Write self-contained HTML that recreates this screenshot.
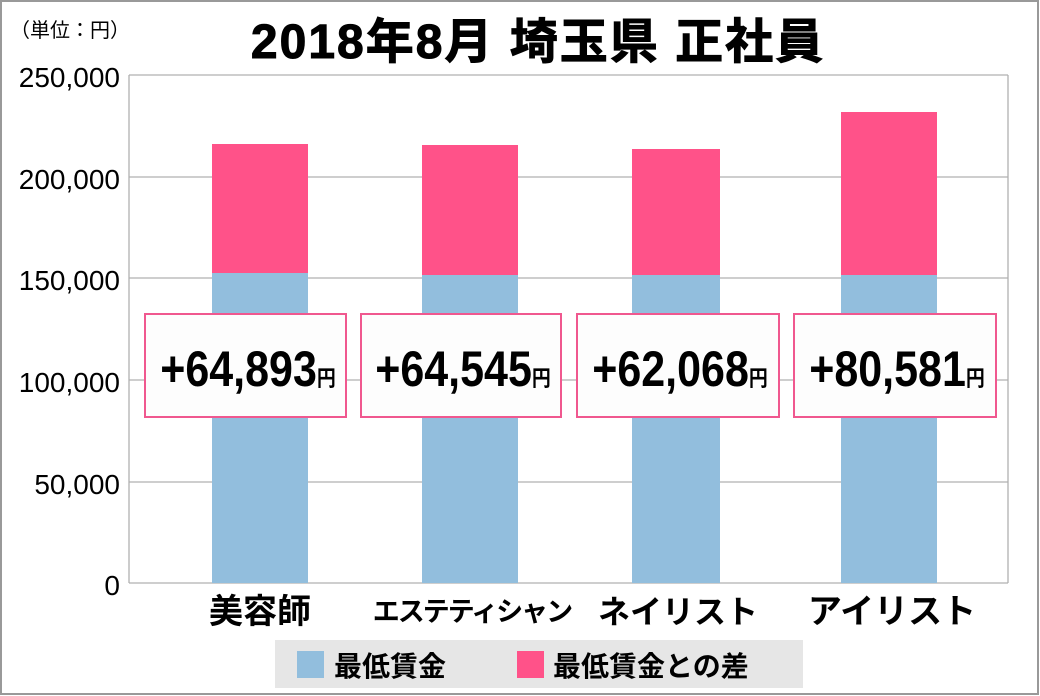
<!DOCTYPE html>
<html><head><meta charset="utf-8"><style>
html,body{margin:0;padding:0;background:#fff}
svg{display:block}
.t{font-family:"Liberation Sans","Noto Sans CJK JP",sans-serif}
</style></head><body>
<svg width="1040" height="696" viewBox="0 0 1040 696" xmlns="http://www.w3.org/2000/svg" class="t">
<rect x="1" y="1" width="1037" height="693" fill="#fff" stroke="#999" stroke-width="2"/>
<text x="10" y="37" font-size="20" fill="#000">（単位：円）</text>
<text x="538" y="58" font-size="48" font-weight="bold" text-anchor="middle" fill="#000" stroke="#000" stroke-width="1" letter-spacing="2">2018年8月 埼玉県 正社員</text>
<g stroke="#b0b0b0" stroke-width="1.3">
<line x1="129" y1="75" x2="1008" y2="75"/>
<line x1="129" y1="177" x2="1008" y2="177"/>
<line x1="129" y1="278" x2="1008" y2="278"/>
<line x1="129" y1="380" x2="1008" y2="380"/>
<line x1="129" y1="482" x2="1008" y2="482"/>
<line x1="129" y1="583" x2="1008" y2="583"/>
<line x1="129" y1="75" x2="129" y2="583"/>
<line x1="1008" y1="75" x2="1008" y2="583"/>
</g>
<g font-size="28" text-anchor="end" fill="#000">
<text x="120" y="87">250,000</text>
<text x="120" y="189">200,000</text>
<text x="120" y="290">150,000</text>
<text x="120" y="392">100,000</text>
<text x="120" y="494">50,000</text>
<text x="120" y="595">0</text>
</g>
<g fill="#92bedd">
<rect x="212" y="273" width="96" height="310"/>
<rect x="422" y="275" width="96" height="308"/>
<rect x="632" y="275" width="88" height="308"/>
<rect x="841" y="275" width="96" height="308"/>
</g>
<g fill="#ff5289">
<rect x="212" y="144" width="96" height="129"/>
<rect x="422" y="145" width="96" height="130"/>
<rect x="632" y="149" width="88" height="126"/>
<rect x="841" y="112" width="96" height="163"/>
</g>
<g fill="#fdfdfd" stroke="#f0588f" stroke-width="2">
<rect x="145" y="314" width="201" height="103"/>
<rect x="361" y="314" width="200" height="103"/>
<rect x="577" y="314" width="202" height="103"/>
<rect x="794" y="314" width="202" height="103"/>
</g>
<g font-weight="bold" fill="#000">
<text transform="translate(248,386) scale(0.86,1)" text-anchor="middle" font-size="50">+64,893<tspan font-size="22">円</tspan></text>
<text transform="translate(463,386) scale(0.86,1)" text-anchor="middle" font-size="50">+64,545<tspan font-size="22">円</tspan></text>
<text transform="translate(680,386) scale(0.86,1)" text-anchor="middle" font-size="50">+62,068<tspan font-size="22">円</tspan></text>
<text transform="translate(897,386) scale(0.86,1)" text-anchor="middle" font-size="50">+80,581<tspan font-size="22">円</tspan></text>
</g>
<g font-weight="bold" fill="#000" text-anchor="middle">
<text x="260" y="623" font-size="34">美容師</text>
<text x="472" y="621" font-size="27" letter-spacing="-2">エステティシャン</text>
<text x="678" y="623" font-size="32">ネイリスト</text>
<text x="892" y="623" font-size="34">アイリスト</text>
</g>
<rect x="275" y="640" width="528" height="48" fill="#e6e6e6"/>
<rect x="297" y="651" width="27" height="27" fill="#92bedd"/>
<text x="334" y="676" font-size="28" font-weight="bold">最低賃金</text>
<rect x="517" y="651" width="27" height="27" fill="#ff5289"/>
<text x="553" y="676" font-size="28" font-weight="bold">最低賃金との差</text>
</svg>
</body></html>
